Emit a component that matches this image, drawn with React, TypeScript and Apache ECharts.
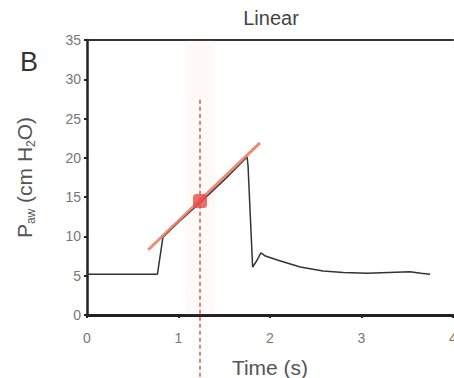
import React, { useEffect, useRef } from "react";
import * as echarts from "echarts";

const xTicks = [0, 1, 2, 3, 4];
const yTicks = [0, 5, 10, 15, 20, 25, 30, 35];
const traceTime = [0, 0.3, 0.6, 0.77, 0.83, 1.0, 1.235, 1.5, 1.75, 1.76, 1.81, 1.86, 1.9, 1.95, 2.08, 2.33, 2.58, 2.8, 3.06, 3.3, 3.53, 3.65, 3.75];
const tracePressure = [5.2, 5.2, 5.2, 5.2, 9.9, 11.8, 14.3, 17.2, 20.1, 19.0, 6.1, 7.0, 7.9, 7.5, 7.0, 6.1, 5.6, 5.4, 5.3, 5.4, 5.5, 5.3, 5.2];
const fitTime = [0.67, 1.89];
const fitPressure = [8.3, 21.9];
const markerTime = 1.235;
const markerPressure = 14.5;
const guideTop = 27.4;
const guideBottom = -8;

export default function App() {
  const ref = useRef<HTMLDivElement>(null);
  useEffect(() => {
    if (!ref.current) return;
    const chart = echarts.init(ref.current, null, { renderer: "svg" });
    const font = "Liberation Sans, Arial, sans-serif";
    chart.setOption({
      animation: false,
      backgroundColor: "#ffffff",
      title: {
        text: "Linear",
        left: 266,
        top: 3,
        textAlign: "center",
        textStyle: { fontFamily: font, fontSize: 20, fontWeight: "normal", color: "#444" },
      },
      graphic: [
        {
          type: "text",
          left: 20,
          top: 48,
          style: { text: "B", fontFamily: font, fontSize: 27, fill: "#333" },
        },
      ],
      grid: { left: 87, right: 1, top: 40, bottom: 63, containLabel: false, outerBoundsMode: "none" },
      xAxis: [
        {
          type: "value",
          min: 0,
          max: 4,
          interval: 1,
          data: xTicks,
          name: "Time (s)",
          nameLocation: "middle",
          nameGap: 42,
          nameTextStyle: { fontFamily: font, fontSize: 21, color: "#555" },
          axisLine: { show: true, onZero: false, lineStyle: { color: "#222", width: 3 } },
          axisTick: { show: true, length: 3, lineStyle: { color: "#222", width: 2 } },
          axisLabel: { fontFamily: font, fontSize: 14, color: "#777", margin: 16 },
          splitLine: { show: false },
        },
        {
          type: "value",
          position: "top",
          min: 0,
          max: 4,
          axisLine: { show: true, onZero: false, lineStyle: { color: "#333", width: 2 } },
          axisTick: { show: false },
          axisLabel: { show: false },
          splitLine: { show: false },
        },
      ],
      yAxis: {
        type: "value",
        min: 0,
        max: 35,
        interval: 5,
        data: yTicks,
        name: "{p|P}{s|aw}{p| (cm H}{s|2}{p|O)}",
        nameLocation: "middle",
        nameGap: 50,
        nameRotate: 90,
        nameTextStyle: {
          rich: {
            p: { fontFamily: font, fontSize: 21, color: "#555", lineHeight: 26, verticalAlign: "middle" },
            s: { fontFamily: font, fontSize: 12, color: "#555", lineHeight: 26, verticalAlign: "bottom" },
          },
        },
        axisLine: { show: true, lineStyle: { color: "#222", width: 2.5 } },
        axisTick: { show: true, length: 3, lineStyle: { color: "#222", width: 2 } },
        axisLabel: { fontFamily: font, fontSize: 14, color: "#777", margin: 6 },
        splitLine: { show: false },
      },
      series: [
        {
          type: "line",
          data: [[markerTime, guideTop], [markerTime, guideBottom]],
          clip: false,
          symbol: "none",
          silent: true,
          lineStyle: { color: "#c8332c", width: 1.2, type: [4, 3] },
          markArea: {
            silent: true,
            itemStyle: { color: "rgba(255,170,160,0.07)" },
            data: [[{ xAxis: 1.08 }, { xAxis: 1.4 }]],
          },
          z: 1,
        },
        {
          type: "line",
          data: traceTime.map((t, i) => [t, tracePressure[i]]),
          symbol: "none",
          lineStyle: { color: "#333", width: 1.5 },
          z: 2,
        },
        {
          type: "line",
          data: fitTime.map((t, i) => [t, fitPressure[i]]),
          symbol: "none",
          lineStyle: { color: "rgba(228,120,95,0.85)", width: 3 },
          z: 3,
        },
        {
          type: "scatter",
          data: [[markerTime, markerPressure]],
          symbol: "roundRect",
          symbolSize: 14,
          itemStyle: { color: "#e84848" },
          z: 4,
        },
      ],
    });
    return () => chart.dispose();
  }, []);
  return <div ref={ref} style={{ width: 454, height: 378, position: "absolute", left: 0, top: 0 }} />;
}
